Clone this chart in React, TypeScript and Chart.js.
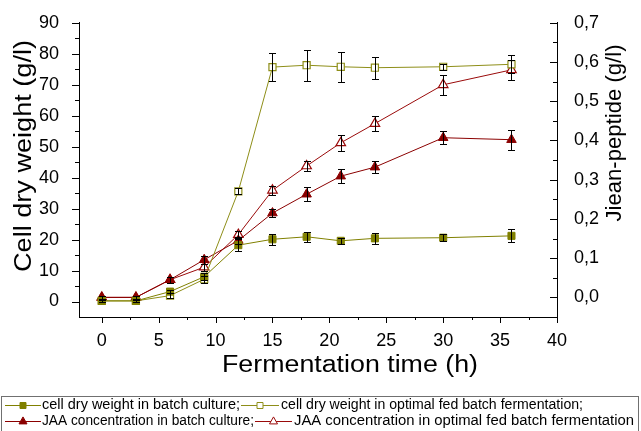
import React, { useEffect, useRef } from 'react';
import { Chart, registerables } from 'chart.js';

Chart.register(...registerables);

// ---- data ----
const times = [0, 3, 6, 9, 12, 15, 18, 21, 24, 30, 36];
const cdwBatch = [0.2, 0.2, 3.2, 8.0, 18.2, 20.1, 20.9, 19.6, 20.4, 20.6, 21.2];
const cdwBatchErr = [0.4, 0.4, 0.6, 1.1, 1.9, 1.8, 1.6, 1.0, 1.7, 1.2, 2.1];
const cdwFed = [0.2, 0.2, 1.9, 7.2, 35.6, 75.7, 76.3, 75.8, 75.5, 75.8, 76.6];
const cdwFedErr = [0.5, 0.5, 0.75, 1.1, 0.9, 4.5, 5.0, 4.8, 3.6, 1.0, 2.9];
const jaaBatch = [0.0, 0.0, 0.045, 0.096, 0.145, 0.215, 0.263, 0.309, 0.332, 0.407, 0.402];
const jaaBatchErr = [0.003, 0.003, 0.008, 0.01, 0.01, 0.011, 0.018, 0.018, 0.016, 0.017, 0.025];
const jaaFed = [0.0, 0.0, 0.045, 0.077, 0.16, 0.273, 0.335, 0.394, 0.443, 0.542, 0.58];
const jaaFedErr = [0.003, 0.003, 0.008, 0.009, 0.009, 0.011, 0.013, 0.021, 0.02, 0.026, 0.025];

const xTicks = [0, 5, 10, 15, 20, 25, 30, 35, 40];
const leftTicks = [0, 10, 20, 30, 40, 50, 60, 70, 80, 90];
const rightTicks = [0, 0.1, 0.2, 0.3, 0.4, 0.5, 0.6, 0.7];
const rightTickLabels = ['0,0', '0,1', '0,2', '0,3', '0,4', '0,5', '0,6', '0,7'];

const xTitle = 'Fermentation time (h)';
const leftTitle = 'Cell dry weight (g/l)';
const rightTitle = 'Jiean-peptide (g/l)';
const legendLabels = [
  'cell dry weight in batch culture;',
  'cell dry weight in optimal fed batch fermentation;',
  'JAA concentration in batch culture;',
  'JAA concentration in optimal fed batch fermentation',
];

const OLIVE = '#808000';
const OLIVE2 = '#8e8e18';
const RED = '#8b0000';
const RED2 = '#9a0a0a';
const FONT = '"Liberation Sans", Arial, sans-serif';

const errors = [cdwBatchErr, cdwFedErr, jaaBatchErr, jaaFedErr];

function pts(vals: number[]) {
  return times.map((t, i) => ({ x: t, y: vals[i] }));
}

function drawMarker(ctx: CanvasRenderingContext2D, x: number, y: number, shape: string, filled: boolean, color: string, r: number) {
  ctx.save();
  ctx.beginPath();
  if (shape === 'rect') {
    const s = r;
    ctx.rect(x - s, y - s, 2 * s, 2 * s);
  } else {
    ctx.moveTo(x, y - r * 1.15);
    ctx.lineTo(x + r, y + r * 0.6);
    ctx.lineTo(x - r, y + r * 0.6);
    ctx.closePath();
  }
  ctx.fillStyle = filled ? color : '#fff';
  ctx.fill();
  ctx.strokeStyle = color;
  ctx.lineWidth = 1;
  ctx.stroke();
  ctx.restore();
}

// draws text centred at (cx, cy), stretched/condensed to a given width
function fitText(ctx: CanvasRenderingContext2D, t: string, cx: number, cy: number, width: number, rot: number) {
  ctx.save();
  const w = ctx.measureText(t).width;
  ctx.translate(cx, cy);
  ctx.rotate(rot);
  ctx.scale(width / w, 1);
  ctx.textAlign = 'center';
  ctx.textBaseline = 'middle';
  ctx.fillText(t, 0, 0);
  ctx.restore();
}

const extras = {
  id: 'extras',
  afterDatasetsDraw(chart: any) {
    const ctx = chart.ctx as CanvasRenderingContext2D;
    const xs = chart.scales.x;
    ctx.save();
    ctx.strokeStyle = '#000';
    ctx.lineWidth = 1;
    chart.data.datasets.forEach((ds: any, i: number) => {
      const ys = chart.scales[ds.yAxisID];
      const errs = errors[i];
      ds.data.forEach((p: any, j: number) => {
        const e = errs[j];
        if (!e) return;
        const px = Math.round(xs.getPixelForValue(p.x)) + 0.5;
        const top = Math.round(ys.getPixelForValue(p.y + e)) + 0.5;
        const bot = Math.round(ys.getPixelForValue(p.y - e)) + 0.5;
        ctx.beginPath();
        ctx.moveTo(px, top);
        ctx.lineTo(px, bot);
        ctx.moveTo(px - 3.5, top);
        ctx.lineTo(px + 3.5, top);
        ctx.moveTo(px - 3.5, bot);
        ctx.lineTo(px + 3.5, bot);
        ctx.stroke();
      });
    });
    ctx.restore();
  },
  afterDraw(chart: any) {
    const ctx = chart.ctx as CanvasRenderingContext2D;
    const ca = chart.chartArea;
    const xs = chart.scales.x;
    const yl = chart.scales.y;
    const yr = chart.scales.y1;
    ctx.save();
    ctx.strokeStyle = '#000';
    ctx.lineWidth = 1;
    ctx.beginPath();
    // x ticks (outward, down)
    for (let i = 0; i <= 16; i++) {
      const v = i * 2.5;
      const px = Math.round(xs.getPixelForValue(v)) + 0.5;
      ctx.moveTo(px, ca.bottom);
      ctx.lineTo(px, ca.bottom + (i % 2 === 0 ? 6 : 3));
    }
    // left ticks (outward)
    for (let i = 0; i <= 18; i++) {
      const v = i * 5;
      const py = Math.round(yl.getPixelForValue(v)) + 0.5;
      ctx.moveTo(ca.left, py);
      ctx.lineTo(ca.left - (i % 2 === 0 ? 7 : 4), py);
    }
    // right ticks (inward)
    for (let i = 0; i <= 14; i++) {
      const v = i * 0.05;
      const py = Math.round(yr.getPixelForValue(v)) + 0.5;
      ctx.moveTo(ca.right, py);
      ctx.lineTo(ca.right - (i % 2 === 0 ? 7 : 4), py);
    }
    ctx.stroke();

    // axis titles
    ctx.fillStyle = '#000';
    ctx.font = '23px ' + FONT;
    fitText(ctx, xTitle, 350, 366, 256, 0);
    fitText(ctx, leftTitle, 25, 156, 232, -Math.PI / 2);
    ctx.font = '22px ' + FONT;
    fitText(ctx, rightTitle, 615, 133, 177, -Math.PI / 2);

    // legend box
    ctx.strokeStyle = '#707070';
    ctx.strokeRect(1.5, 396.5, 637, 40);

    const sym = (x0: number, x1: number, y: number, color: string, shape: string, filled: boolean) => {
      ctx.save();
      ctx.strokeStyle = color;
      ctx.lineWidth = 1;
      ctx.beginPath();
      ctx.moveTo(x0, y + 0.5);
      ctx.lineTo(x1, y + 0.5);
      ctx.stroke();
      drawMarker(ctx, (x0 + x1) / 2, y + 0.5, shape, filled, color, shape === 'rect' ? 3 : 4);
      ctx.restore();
    };
    const txt = (t: string, x0: number, x1: number, y: number) => {
      ctx.save();
      ctx.font = '14px ' + FONT;
      ctx.textAlign = 'left';
      ctx.textBaseline = 'middle';
      ctx.fillStyle = '#000';
      const w = ctx.measureText(t).width;
      ctx.translate(x0, y);
      ctx.scale((x1 - x0) / w, 1);
      ctx.fillText(t, 0, 0);
      ctx.restore();
    };
    const y1 = 405;
    const y2 = 421;
    sym(5, 41, y1, OLIVE, 'rect', true);
    txt(legendLabels[0], 42, 240, y1);
    sym(241, 279, y1, OLIVE2, 'rect', false);
    txt(legendLabels[1], 281, 583, y1);
    sym(5, 41, y2, RED, 'tri', true);
    txt(legendLabels[2], 42, 254, y2);
    sym(255, 292, y2, RED2, 'tri', false);
    txt(legendLabels[3], 294, 634, y2);
    ctx.restore();
  },
};

export default function App() {
  const ref = useRef<HTMLCanvasElement>(null);
  useEffect(() => {
    const canvas = ref.current!;
    const tickFont = { family: FONT, size: 18 };
    const chart = new Chart(canvas, {
      type: 'line',
      data: {
        datasets: [
          {
            label: legendLabels[0],
            data: pts(cdwBatch),
            yAxisID: 'y',
            borderColor: OLIVE,
            backgroundColor: OLIVE,
            pointStyle: 'rect',
            pointRadius: 5,
            pointBackgroundColor: OLIVE,
            pointBorderColor: OLIVE,
            borderWidth: 1,
            pointBorderWidth: 1,
          },
          {
            label: legendLabels[1],
            data: pts(cdwFed),
            yAxisID: 'y',
            borderColor: OLIVE2,
            backgroundColor: '#fff',
            pointStyle: 'rect',
            pointRadius: 5,
            pointBackgroundColor: '#fff',
            pointBorderColor: OLIVE2,
            borderWidth: 1,
            pointBorderWidth: 1.2,
          },
          {
            label: legendLabels[2],
            data: pts(jaaBatch),
            yAxisID: 'y1',
            borderColor: RED,
            backgroundColor: RED,
            pointStyle: 'triangle',
            pointRadius: 5.5,
            pointBackgroundColor: RED,
            pointBorderColor: RED,
            borderWidth: 1,
            pointBorderWidth: 1,
          },
          {
            label: legendLabels[3],
            data: pts(jaaFed),
            yAxisID: 'y1',
            borderColor: RED2,
            backgroundColor: '#fff',
            pointStyle: 'triangle',
            pointRadius: 5.5,
            pointBackgroundColor: '#fff',
            pointBorderColor: RED2,
            borderWidth: 1,
            pointBorderWidth: 1.2,
          },
        ],
      },
      options: {
        animation: false,
        responsive: false,
        devicePixelRatio: 1,
        layout: { padding: { top: 21, left: 0, right: 0, bottom: 0 } },
        plugins: { legend: { display: false }, tooltip: { enabled: false } },
        elements: { line: { tension: 0 } },
        scales: {
          x: {
            type: 'linear',
            min: -2,
            max: 40,
            afterBuildTicks: (s: any) => {
              s.ticks = xTicks.map((v) => ({ value: v }));
            },
            afterFit: (s: any) => {
              s.height = 114;
            },
            grid: { display: false },
            border: { display: true, color: '#000', width: 1 },
            ticks: {
              font: tickFont,
              color: '#000',
              padding: 5,
              maxRotation: 0,
              autoSkip: false,
              callback: (v: any, i: number) => String(xTicks[i]),
            },
          },
          y: {
            type: 'linear',
            position: 'left',
            min: -5,
            max: 90,
            afterBuildTicks: (s: any) => {
              s.ticks = leftTicks.map((v) => ({ value: v }));
            },
            afterFit: (s: any) => {
              s.width = 79;
            },
            grid: { display: false },
            border: { display: true, color: '#000', width: 1 },
            ticks: {
              font: tickFont,
              color: '#000',
              padding: 12,
              autoSkip: false,
              callback: (v: any, i: number) => String(leftTicks[i]),
            },
          },
          y1: {
            type: 'linear',
            position: 'right',
            min: -0.05,
            max: 0.7,
            afterBuildTicks: (s: any) => {
              s.ticks = rightTicks.map((v) => ({ value: v }));
            },
            afterFit: (s: any) => {
              s.width = 84;
            },
            grid: { display: false },
            border: { display: true, color: '#000', width: 1 },
            ticks: {
              font: tickFont,
              color: '#000',
              padding: 9,
              autoSkip: false,
              callback: (v: any, i: number) => rightTickLabels[i],
            },
          },
        },
      },
      plugins: [extras],
    } as any);
    return () => chart.destroy();
  }, []);
  return (
    <div style={{ position: 'absolute', left: 0, top: 0, width: 641, height: 431, background: '#fff' }}>
      <canvas ref={ref} width={641} height={431} style={{ display: 'block' }} />
    </div>
  );
}
